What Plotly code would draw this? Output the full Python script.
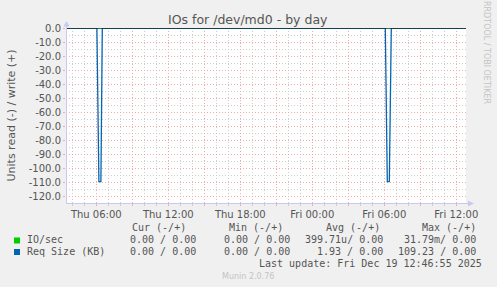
import plotly.graph_objects as go

# ---- data ----
rdsz_times = ["2025-12-18 03:28", "2025-12-18 06:03", "2025-12-18 06:13", "2025-12-18 06:23",
              "2025-12-18 06:30", "2025-12-19 06:05", "2025-12-19 06:15", "2025-12-19 06:25",
              "2025-12-19 06:35", "2025-12-19 12:48"]
rdsz_read = [0, 0, -109.23, -109.23, 0, 0, -109.23, -109.23, 0, 0]
io_times = ["2025-12-18 03:28", "2025-12-19 12:48"]
io_read = [0, 0]

x_tickvals = ["2025-12-18 06:00", "2025-12-18 09:00", "2025-12-18 12:00", "2025-12-18 15:00",
              "2025-12-18 18:00", "2025-12-18 21:00", "2025-12-19 00:00", "2025-12-19 03:00",
              "2025-12-19 06:00", "2025-12-19 09:00", "2025-12-19 12:00"]
x_ticktext = ["Thu 06:00", "", "Thu 12:00", "", "Thu 18:00", "", "Fri 00:00", "", "Fri 06:00", "", "Fri 12:00"]
y_tickvals = [0, -10, -20, -30, -40, -50, -60, -70, -80, -90, -100, -110, -120]
y_ticktext = ["%.1f" % v for v in y_tickvals]

series_names = ["IO/sec", "Req Size (KB)"]
series_colors = ["#00cc00", "#0066b3"]
cur_vals = ["0.00 / 0.00", "0.00 / 0.00"]
min_vals = ["0.00 / 0.00", "0.00 / 0.00"]
avg_vals = ["399.71u/ 0.00", "1.93 / 0.00"]
max_vals = ["31.79m/ 0.00", "109.23 / 0.00"]

# ---- layout geometry ----
W, H = 497, 287
PL, PT, PW, PH = 66, 28, 400, 175

def px(x):
    return (x - PL) / PW

def py(y):
    return (PT + PH - y) / PH

RED = "rgb(240,170,170)"
GREY = "rgb(205,205,205)"
AXIS = "#c8c8f2"
TXT = "#555555"
MONO = "DejaVu Sans Mono"
SANS = "DejaVu Sans"

fig = go.Figure()
fig.add_trace(go.Scatter(x=io_times, y=io_read, mode="lines",
                         line=dict(color=series_colors[0], width=1), hoverinfo="skip"))
fig.add_trace(go.Scatter(x=rdsz_times, y=rdsz_read, mode="lines",
                         line=dict(color=series_colors[1], width=1.3), hoverinfo="skip"))

fig.update_layout(
    width=W, height=H,
    margin=dict(l=PL, r=W - PL - PW, t=PT, b=H - PT - PH, pad=0),
    paper_bgcolor="#f0f0f0", plot_bgcolor="#ffffff",
    showlegend=False,
    font=dict(family=SANS, size=10, color=TXT),
)
fig.update_xaxes(
    type="date", range=["2025-12-18 03:28:30", "2025-12-19 12:48:30"],
    tickvals=x_tickvals, ticktext=x_ticktext,
    showgrid=True, gridcolor=RED, griddash="1px,2px", gridwidth=1,
    ticks="outside", ticklen=2, tickcolor=RED,
    tickfont=dict(family=SANS, size=10, color=TXT),
    minor=dict(dtick=3600000, tick0="2025-12-18 00:00", showgrid=True, gridcolor=GREY,
               griddash="1px,2px", ticks="outside", ticklen=2, tickcolor=GREY),
    showline=False, zeroline=False, fixedrange=True,
)
fig.update_yaxes(
    range=[-124.35, 0],
    tickvals=y_tickvals, ticktext=y_ticktext,
    showgrid=True, gridcolor=RED, griddash="1px,2px", gridwidth=1,
    ticks="outside", ticklen=2, tickcolor=RED,
    tickfont=dict(family=SANS, size=10, color=TXT),
    minor=dict(dtick=5, tick0=0, showgrid=True, gridcolor=GREY, griddash="1px,2px"),
    showline=False, zeroline=False, fixedrange=True,
)

shapes = []
# zero line
shapes.append(dict(type="line", xref="paper", yref="y", x0=0, x1=1, y0=0, y1=0,
                   line=dict(color="#000000", width=1), layer="above"))
# axes with arrows
shapes.append(dict(type="line", xref="paper", yref="paper", x0=px(66.5), x1=px(66.5),
                   y0=py(203.5), y1=py(24), line=dict(color=AXIS, width=1), layer="above"))
shapes.append(dict(type="line", xref="paper", yref="paper", x0=px(66), x1=px(469),
                   y0=py(203.5), y1=py(203.5), line=dict(color=AXIS, width=1), layer="above"))
shapes.append(dict(type="path", xref="paper", yref="paper",
                   path="M %f %f L %f %f L %f %f Z" % (px(63.5), py(26.5), px(69.5), py(26.5), px(66.5), py(21)),
                   fillcolor=AXIS, line=dict(width=0), layer="above"))
shapes.append(dict(type="path", xref="paper", yref="paper",
                   path="M %f %f L %f %f L %f %f Z" % (px(468), py(200.5), px(468), py(206.5), px(474), py(203.5)),
                   fillcolor=AXIS, line=dict(width=0), layer="above"))
# legend colour boxes
for i, c in enumerate(series_colors):
    yc = 240.5 + i * 11.5
    shapes.append(dict(type="rect", xref="paper", yref="paper",
                       x0=px(14), x1=px(20), y0=py(yc + 3), y1=py(yc - 3),
                       fillcolor=c, line=dict(width=0)))
fig.update_layout(shapes=shapes)

ann = []
def text(x, y, s, size=10, fam=MONO, color=TXT, xa="left", angle=0):
    ann.append(dict(x=px(x), y=py(y), xref="paper", yref="paper", text=s, showarrow=False,
                    xanchor=xa, yanchor="middle", textangle=angle, borderpad=0,
                    font=dict(family=fam, size=size, color=color)))

text(248, 19, "IOs for /dev/md0 - by day", size=12.5, fam=SANS, xa="center")
text(11, 115.5, "Units read (-) / write (+)", size=11, fam=SANS, xa="center", angle=-90)
text(487, 52, "RRDTOOL / TOBI OETIKER", size=8, fam=SANS, color="#c4c4c4", xa="center", angle=90)

# legend table
text(187, 227.5, "Cur (-/+)", xa="right")
text(284, 227.5, "Min (-/+)", xa="right")
text(381, 227.5, "Avg (-/+)", xa="right")
text(477, 227.5, "Max (-/+)", xa="right")
for i, name in enumerate(series_names):
    yr = 239.5 + i * 11.7
    text(26, yr, name)
    text(197, yr, cur_vals[i], xa="right")
    text(291, yr, min_vals[i], xa="right")
    text(384, yr, avg_vals[i], xa="right")
    text(477, yr, max_vals[i], xa="right")
text(483, 263.5, "Last update: Fri Dec 19 12:46:55 2025", xa="right")
text(248, 276, "Munin 2.0.76", size=8, fam=SANS, color="#c4c4c4", xa="center")

fig.update_layout(annotations=ann)
fig.write_html("out.html")
